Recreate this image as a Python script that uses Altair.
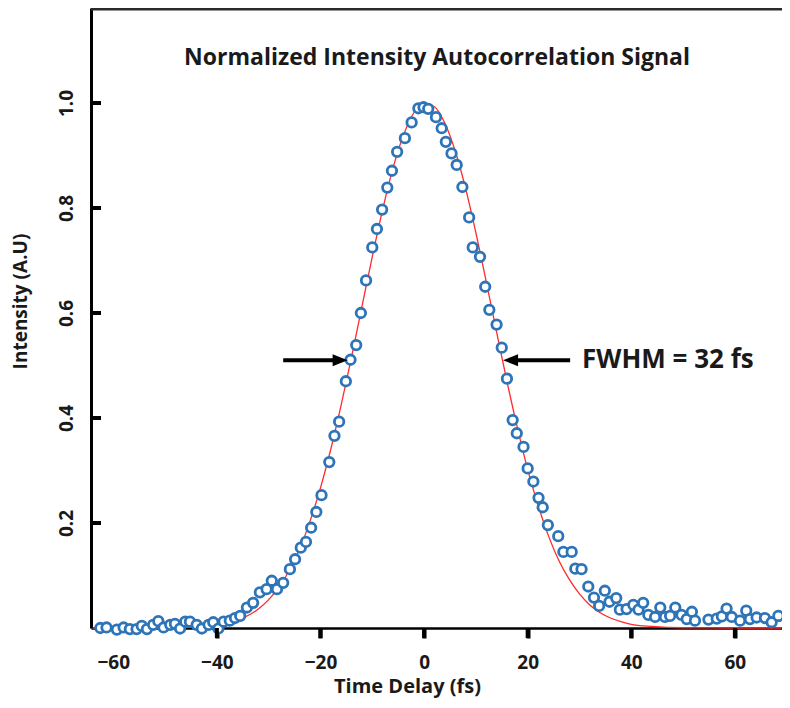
import altair as alt
import pandas as pd

# ---- data ----
time_fs = [
    -62.5, -61.3, -59.3, -58.0, -56.8, -55.5, -54.5, -53.5, -52.3, -51.3,
    -50.3, -49.0, -48.1, -47.1, -46.1, -45.2, -43.9, -42.9, -41.6, -40.7,
    -39.7, -38.7, -37.5, -36.5, -35.5, -34.2, -33.0, -31.7, -30.4, -29.4,
    -28.4, -27.2, -25.9, -24.9, -23.8, -22.8, -21.8, -20.8, -19.8, -18.3,
    -17.3, -16.4, -15.1, -14.2, -13.1, -12.2, -11.2, -10.0, -9.1, -8.1,
    -7.1, -6.2, -5.2, -3.7, -2.4, -1.1, -0.1, 0.8, 2.3, 3.4,
    4.2, 5.3, 6.3, 7.4, 8.7, 9.4, 10.8, 11.8, 12.6, 14.0,
    15.0, 16.0, 17.1, 17.9, 19.2, 20.0, 21.1, 22.1, 22.9, 23.9,
    25.9, 26.9, 28.5, 29.2, 30.4, 31.7, 32.8, 33.8, 34.9, 35.8,
    37.1, 37.8, 39.1, 40.4, 41.4, 42.3, 43.3, 44.6, 45.6, 46.5,
    47.5, 48.5, 49.7, 50.7, 51.7, 52.3, 54.9, 56.5, 57.5, 58.4,
    59.4, 61.0, 62.2, 62.9, 64.2, 65.8, 67.1, 68.4,
]
intensity = [
    0.000, 0.001, -0.003, 0.001, -0.002, -0.002, 0.004, -0.002, 0.006, 0.013,
    0.001, 0.006, 0.008, -0.001, 0.012, 0.012, 0.006, -0.001, 0.006, 0.011,
    -0.001, 0.012, 0.014, 0.019, 0.023, 0.039, 0.048, 0.068, 0.074, 0.090,
    0.074, 0.086, 0.112, 0.131, 0.153, 0.164, 0.191, 0.221, 0.253, 0.316,
    0.366, 0.393, 0.470, 0.511, 0.539, 0.600, 0.662, 0.725, 0.760, 0.797,
    0.839, 0.871, 0.907, 0.933, 0.963, 0.990, 0.992, 0.989, 0.973, 0.952,
    0.926, 0.904, 0.882, 0.840, 0.782, 0.725, 0.707, 0.650, 0.606, 0.578,
    0.534, 0.475, 0.396, 0.371, 0.345, 0.304, 0.279, 0.248, 0.230, 0.196,
    0.175, 0.145, 0.145, 0.113, 0.112, 0.079, 0.058, 0.042, 0.071, 0.050,
    0.057, 0.035, 0.036, 0.044, 0.035, 0.048, 0.025, 0.021, 0.039, 0.021,
    0.023, 0.039, 0.025, 0.017, 0.031, 0.014, 0.016, 0.018, 0.022, 0.037,
    0.021, 0.014, 0.033, 0.017, 0.020, 0.019, 0.011, 0.023,
]
fit_time = [-64, -50, -44, -40, -36, -32, -30, -28, -26, -24, -22, -20, -18, -16,
            -14, -12, -10, -8, -6, -4, -2, 0, 2, 4, 6, 8, 10, 12, 14, 16, 18, 20,
            22, 24, 26, 28, 30, 32, 34, 36, 38, 40, 44, 50, 60, 69]
fit_value = [0.000, 0.0003, 0.002, 0.006, 0.015, 0.036, 0.054, 0.078, 0.110, 0.151,
             0.204, 0.267, 0.341, 0.425, 0.516, 0.612, 0.707, 0.797, 0.876, 0.938,
             0.981, 0.999, 0.993, 0.962, 0.909, 0.838, 0.753, 0.660, 0.564, 0.470,
             0.382, 0.302, 0.234, 0.176, 0.129, 0.093, 0.065, 0.044, 0.029, 0.019,
             0.012, 0.007, 0.003, 0.0005, 0.000, 0.000]
x_tick_labels = [-60, -40, -20, 0, 20, 40, 60]
x_tick_marks = [-40, -20, 0, 20, 40, 60]
y_ticks = [0.2, 0.4, 0.6, 0.8, 1.0]

chart_title = "Normalized Intensity Autocorrelation Signal"
fwhm_text = "FWHM = 32 fs"

# ---- layout ----
W, H = 691, 620
FONT = "Open Sans"
BLUE = "#2E74B8"
X_DOMAIN = [-64.3, 69.1]
Y_DOMAIN = [0, 1.181]
xs = alt.Scale(domain=X_DOMAIN, nice=False, zero=False)
ys = alt.Scale(domain=Y_DOMAIN, nice=False, zero=False)
PX_X = (X_DOMAIN[1] - X_DOMAIN[0]) / W   # data units per pixel, x
PX_Y = (Y_DOMAIN[1] - Y_DOMAIN[0]) / H   # data units per pixel, y
TICK_LEN = 10

pts = pd.DataFrame({"t": time_fs, "v": intensity})
fit = pd.DataFrame({"t": fit_time, "v": fit_value})

x_axis = alt.Axis(
    values=x_tick_labels, format="d", grid=False,
    ticks=True, tickSize=TICK_LEN, tickWidth=4, tickColor="black",
    tickOpacity={"condition": {"test": "datum.value < -50", "value": 0}, "value": 1},
    domainColor="black", domainWidth=2.5,
    labelFont=FONT, labelFontSize=19, labelFontWeight="bold", labelColor="#1a1a1a",
    labelPadding=15,
    title="Time Delay (fs)", titleFont=FONT, titleFontSize=20, titleFontWeight="bold",
    titleColor="#1a1a1a", titleX=316, titleY=64, titleAlign="center",
    titleBaseline="alphabetic",
)
y_axis = alt.Axis(
    values=y_ticks, format=".1f", grid=False, ticks=False,
    domainColor="black", domainWidth=3,
    labelAngle=270, labelAlign="center", labelBaseline="alphabetic", labelPadding=19,
    labelFont=FONT, labelFontSize=19, labelFontWeight="bold", labelColor="#1a1a1a",
    title="Intensity (A.U)", titleFont=FONT, titleFontSize=19, titleFontWeight="bold",
    titleColor="#1a1a1a", titleAngle=270, titleX=-71, titleY=293,
    titleAlign="center", titleBaseline="middle",
)

X = alt.X("t:Q", scale=xs, axis=x_axis)
Y = alt.Y("v:Q", scale=ys, axis=y_axis)

fit_line = alt.Chart(fit).mark_line(color="#FF2A2A", strokeWidth=1.3, interpolate="monotone").encode(
    x=X, y=Y,
)

points = alt.Chart(pts).mark_point(
    shape="circle", size=90, filled=True, fill="white", stroke=BLUE,
    strokeWidth=2.8, opacity=1,
).encode(x=X, y=Y)

top_border = alt.Chart(pd.DataFrame({"t": [X_DOMAIN[0]], "t2": [X_DOMAIN[1]], "v": [Y_DOMAIN[1]]})).mark_rule(
    color="#2a2a2a", strokeWidth=3, yOffset=1,
).encode(x=X, x2="t2:Q", y=Y)

title_df = pd.DataFrame({"t": [2.5], "v": [1.086], "label": [chart_title]})
title_mark = alt.Chart(title_df).mark_text(
    font=FONT, fontSize=23, fontWeight="bold", color="#1a1a1a",
    align="center", baseline="middle",
).encode(x=X, y=Y, text="label:N")

fwhm_df = pd.DataFrame({"t": [30.5], "v": [0.510], "label": [fwhm_text]})
fwhm_mark = alt.Chart(fwhm_df).mark_text(
    font=FONT, fontSize=26, fontWeight="bold", color="#1a1a1a",
    align="left", baseline="middle",
).encode(x=X, y=Y, text="label:N")

shafts = pd.DataFrame({"t": [-27.2, 17.6], "t2": [-17.0, 28.2], "v": [0.510, 0.510]})
shaft_mark = alt.Chart(shafts).mark_rule(color="black", strokeWidth=4).encode(
    x=X, x2="t2:Q", y=Y,
)

# tick marks as short rules (inward on y, outward on x), built the same way as the arrow shafts
ytick_df = pd.DataFrame({
    "t": [X_DOMAIN[0]] * len(y_ticks),
    "t2": [X_DOMAIN[0] + TICK_LEN * PX_X] * len(y_ticks),
    "v": y_ticks,
})
ytick_rules = alt.Chart(ytick_df).mark_rule(color="black", strokeWidth=4).encode(
    x=X, x2="t2:Q", y=Y,
)
xtick_df = pd.DataFrame({
    "t": x_tick_marks,
    "v": [Y_DOMAIN[0]] * len(x_tick_marks),
    "v2": [Y_DOMAIN[0] - TICK_LEN * PX_Y] * len(x_tick_marks),
})
xtick_rules = alt.Chart(xtick_df).mark_rule(color="black", strokeWidth=4).encode(
    x=X, y=Y, y2="v2:Q",
)

head_r = alt.Chart(pd.DataFrame({"t": [-16.2], "v": [0.510]})).mark_point(
    shape="M-1,-0.8L1,0L-1,0.8Z", size=225, filled=True, color="black", opacity=1,
).encode(x=X, y=Y)
head_l = alt.Chart(pd.DataFrame({"t": [16.7], "v": [0.510]})).mark_point(
    shape="M1,-0.8L-1,0L1,0.8Z", size=225, filled=True, color="black", opacity=1,
).encode(x=X, y=Y)

chart = alt.layer(
    fit_line, points, top_border, title_mark, fwhm_mark,
    shaft_mark, ytick_rules, xtick_rules, head_r, head_l,
).properties(
    width=W, height=H,
    autosize=alt.AutoSizeParams(type="none"),
    padding={"left": 83, "top": 0, "right": 0, "bottom": 71},
).configure_view(strokeWidth=0)

chart.save("out.html", embed_options={"renderer": "svg", "actions": False})
